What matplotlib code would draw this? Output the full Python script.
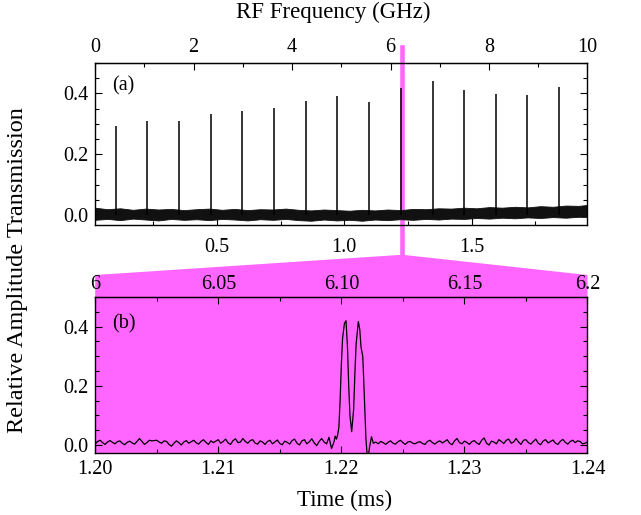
import numpy as np
import matplotlib
matplotlib.use("Agg")
import matplotlib.pyplot as plt
from matplotlib.ticker import MultipleLocator
from matplotlib.patches import Polygon

plt.rcParams['font.family'] = ['Liberation Serif', 'DejaVu Serif']

# --- (a) comb of transmission peaks, time axis in ms ---
comb_t = [0.103, 0.227, 0.351, 0.475, 0.599, 0.724, 0.849, 0.973,
          1.096, 1.222, 1.347, 1.471, 1.594, 1.718, 1.842]
comb_h = [0.292, 0.309, 0.308, 0.332, 0.342, 0.353, 0.375, 0.390,
          0.371, 0.419, 0.440, 0.410, 0.399, 0.396, 0.421]

# noise floor envelope
noise_t = [0.02, 0.07, 0.12, 0.17, 0.22, 0.27, 0.32, 0.37, 0.42, 0.47,
           0.52, 0.57, 0.62, 0.67, 0.72, 0.77, 0.82, 0.87, 0.92, 0.97,
           1.02, 1.07, 1.12, 1.17, 1.22, 1.27, 1.32, 1.37, 1.42, 1.47,
           1.52, 1.57, 1.62, 1.67, 1.72, 1.77, 1.82, 1.87, 1.92, 1.955]
noise_hi = [0.024, 0.019, 0.022, 0.017, 0.021, 0.018, 0.020, 0.016, 0.019, 0.021,
            0.017, 0.020, 0.016, 0.019, 0.018, 0.021, 0.017, 0.015, 0.018, 0.016,
            0.014, 0.017, 0.015, 0.018, 0.016, 0.020, 0.019, 0.022, 0.021, 0.024,
            0.022, 0.026, 0.024, 0.027, 0.025, 0.029, 0.027, 0.031, 0.030, 0.033]
noise_lo = [-0.016, -0.013, -0.017, -0.012, -0.015, -0.018, -0.013, -0.016, -0.014, -0.017,
            -0.013, -0.015, -0.018, -0.014, -0.016, -0.013, -0.017, -0.019, -0.015, -0.018,
            -0.016, -0.019, -0.015, -0.017, -0.014, -0.016, -0.013, -0.015, -0.012, -0.013,
            -0.010, -0.012, -0.009, -0.011, -0.008, -0.010, -0.007, -0.009, -0.006, -0.007]

# --- (b) zoom on one peak ---
pre_vals = [0.004, 0.012, 0.016, 0.008, 0.002, 0.010, 0.015, 0.009, 0.004, 0.011,
            0.014, 0.006, 0.001, 0.009, 0.013, 0.007, 0.003, 0.012, 0.022, 0.012,
            0.002, 0.008, 0.016, 0.014, 0.015, 0.016, 0.010, 0.006, 0.014, 0.012,
            0.002, -0.004, 0.006, 0.014, 0.008, 0.000, 0.010, 0.015, 0.006, 0.011,
            0.016, 0.008, 0.003, 0.012, 0.018, 0.009, 0.002, 0.014, 0.008, 0.013,
            0.018, 0.006, 0.012, 0.020, 0.007, 0.002, 0.015, 0.021, 0.008, 0.010,
            0.022, 0.012, 0.006, 0.015, 0.018, 0.006, 0.003, 0.014, 0.010, 0.002,
            0.012, 0.016, 0.004, 0.010, 0.017, 0.005, 0.001, 0.013, 0.009, 0.003,
            0.015, 0.020, 0.006, 0.000, 0.014, 0.018, 0.004, 0.011, 0.021, 0.007,
            -0.002, 0.012, 0.022, 0.010, 0.004]
peak_t = [1.2190, 1.2192, 1.2194, 1.2195, 1.2196, 1.2197, 1.2198, 1.2199, 1.2200,
          1.2201, 1.22025, 1.22038, 1.2205, 1.2206, 1.2207, 1.22084, 1.2210, 1.2211,
          1.2212, 1.22138, 1.2215, 1.2216, 1.22174, 1.2218, 1.2219, 1.2220, 1.2221,
          1.2222, 1.2223, 1.22245, 1.2226]
peak_v = [0.026, -0.012, 0.010, 0.030, 0.020, 0.034, 0.060, 0.150, 0.270,
          0.360, 0.410, 0.420, 0.330, 0.200, 0.100, 0.045, 0.120, 0.240,
          0.340, 0.417, 0.390, 0.330, 0.300, 0.240, 0.130, 0.020, -0.035,
          -0.035, -0.005, 0.028, 0.006]
post_vals = [0.010, 0.004, 0.012, 0.008, 0.002, 0.009, 0.014, 0.006, 0.003, 0.011,
             0.016, 0.008, 0.002, 0.010, 0.012, 0.006, 0.004, 0.009, 0.011, 0.005,
             0.002, 0.012, 0.016, 0.008, 0.003, 0.010, 0.014, 0.007, 0.012, 0.018,
             0.006, 0.001, 0.014, 0.022, 0.008, 0.004, 0.013, 0.009, 0.002, 0.011,
             0.015, 0.007, 0.002, 0.016, 0.024, 0.006, 0.000, 0.013, 0.010, 0.004,
             0.018, 0.012, 0.005, 0.016, 0.020, 0.006, 0.010, 0.022, 0.010, 0.002,
             0.016, 0.018, 0.008, 0.003, 0.012, 0.020, 0.006, 0.001, 0.014, 0.018,
             0.007, 0.012, 0.017, 0.006, 0.002, 0.013, 0.019, 0.009, 0.003, 0.012,
             0.016, 0.008, 0.014, 0.012, 0.004, 0.006, 0.010]

b_time = np.concatenate([np.linspace(1.2000, 1.2188, len(pre_vals)), peak_t,
                         np.linspace(1.2228, 1.2400, len(post_vals))])
b_vals = np.concatenate([pre_vals, peak_v, post_vals])

MAG = '#ff66ff'
T0, T1 = 0.0216, 1.955      # time span of panel (a), ms
ZOOM_T = 1.2255             # where panel (b) is taken from
FS = 14.5

fig = plt.figure(figsize=(6.41, 5.15), dpi=100)
ax1 = fig.add_axes([0.1485, 0.5631, 0.768, 0.3146])
ax2 = fig.add_axes([0.1485, 0.1204, 0.768, 0.3029], facecolor=MAG)

ax1.fill_between(noise_t, noise_lo, noise_hi, color='#111111', lw=0.6, zorder=2)
ax1.vlines(comb_t, 0, comb_h, color='k', lw=1.1, zorder=3)
ax1.axvline(ZOOM_T, ymin=-0.185, ymax=1.10, color=MAG, lw=3.3, clip_on=False, zorder=1)
ax1.set_xlim(T0, T1)
ax1.set_ylim(-0.033, 0.50)
ax1.set_xticks([0.5, 1.0, 1.5])
ax1.set_xticklabels(['0.5', '1.0', '1.5'])
ax1.xaxis.set_minor_locator(MultipleLocator(0.25))
ax1.text(0.035, 0.86, '(a)', transform=ax1.transAxes, fontsize=FS, va='center')

sec1 = ax1.secondary_xaxis('top', functions=(lambda t: (t - T0) / (T1 - T0) * 10,
                                             lambda f: T0 + f / 10 * (T1 - T0)))
sec1.set_xticks([0, 2, 4, 6, 8, 10])
sec1.xaxis.set_minor_locator(MultipleLocator(1))

ax2.plot(b_time, b_vals, color='k', lw=0.9)
ax2.set_xlim(1.20, 1.24)
ax2.set_ylim(-0.027, 0.50)
ax2.set_xticks([1.20, 1.21, 1.22, 1.23, 1.24])
ax2.set_xticklabels(['1.20', '1.21', '1.22', '1.23', '1.24'])
ax2.xaxis.set_minor_locator(MultipleLocator(0.005))
ax2.text(0.035, 0.83, '(b)', transform=ax2.transAxes, fontsize=FS, va='center')

sec2 = ax2.secondary_xaxis('top', functions=(lambda t: 6 + (t - 1.2) * 5,
                                             lambda f: 1.2 + (f - 6) / 5))
sec2.set_xticks([6, 6.05, 6.10, 6.15, 6.2])
sec2.set_xticklabels(['6', '6.05', '6.10', '6.15', '6.2'])
sec2.xaxis.set_minor_locator(MultipleLocator(0.025))

for ax in (ax1, ax2):
    ax.set_yticks([0.0, 0.2, 0.4])
    ax.set_yticklabels(['0.0', '0.2', '0.4'])
    ax.yaxis.set_minor_locator(MultipleLocator(0.05))
    ax.tick_params(which='both', direction='in', right=True, labelsize=FS, width=0.8)
    ax.tick_params(axis='y', which='major', length=5, pad=5)
    ax.tick_params(which='minor', length=3)
    for s in ax.spines.values():
        s.set_linewidth(1.0)
ax1.tick_params(axis='x', which='major', length=5, pad=9)
ax2.tick_params(axis='x', which='major', length=5, pad=5)
for sec, p in ((sec1, 4), (sec2, 2)):
    sec.tick_params(which='both', direction='in', labelsize=FS, width=0.8)
    sec.tick_params(which='major', length=5, pad=p)
    sec.tick_params(which='minor', length=3)

# magenta wedge joining the marker line to panel (b)
xa = fig.transFigure.inverted().transform(ax1.transData.transform((ZOOM_T, 0)))[0]
left, right = 0.1485, 0.1485 + 0.768
wedge = Polygon([(left, 0.466), (xa - 0.003, 0.505), (xa + 0.003, 0.505),
                 (right, 0.466), (right, 0.423), (left, 0.423)],
                closed=True, facecolor=MAG, edgecolor='none',
                transform=fig.transFigure, zorder=-1)
fig.add_artist(wedge)

fig.text(0.52, 0.975, 'RF Frequency (GHz)', ha='center', va='center', fontsize=16.5)
fig.text(0.538, 0.029, 'Time (ms)', ha='center', va='center', fontsize=16.5)
fig.text(0.028, 0.475, 'Relative Amplitude Transmission', ha='center', va='center',
         rotation=90, fontsize=17.5)

fig.savefig('out.png', dpi=100)
